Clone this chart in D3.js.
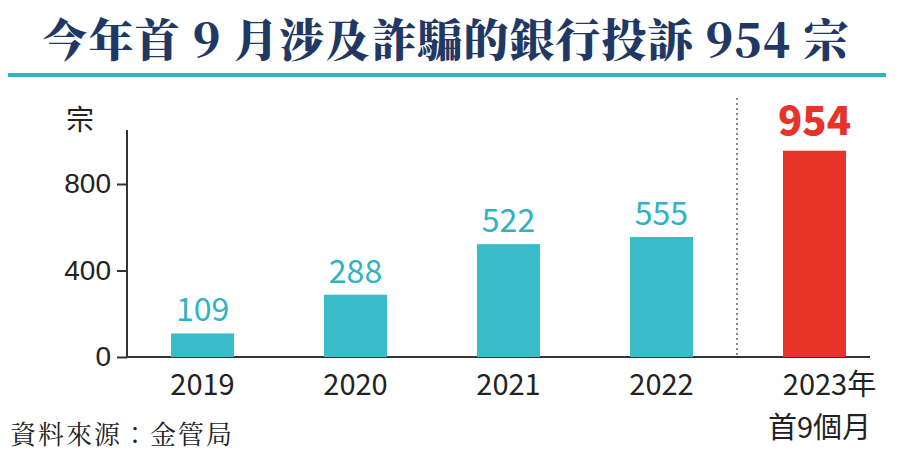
<!DOCTYPE html>
<html><head><meta charset="utf-8">
<script src="https://cdn.jsdelivr.net/npm/d3@7"></script>
<style>body{margin:0;background:#fff}</style>
</head><body><div id="chart"></div>
<script>
const years = ["2019", "2020", "2021", "2022", "2023"];
const counts = [109, 288, 522, 555, 954];
const yTicks = [0, 400, 800];

const width = 907, height = 456;
const svg = d3.select("#chart").append("svg").attr("width", width).attr("height", height)
  .style("font-family", "'Noto Sans CJK TC', 'Noto Sans', sans-serif");

svg.append("text").attr("x", 446).attr("y", 57).attr("text-anchor", "middle")
  .attr("font-family", "'Noto Serif CJK TC','Noto Sans CJK TC',serif")
  .attr("font-weight", 900).attr("font-size", 45).attr("letter-spacing", 1).attr("fill", "#1f3864")
  .text("今年首 9 月涉及詐騙的銀行投訴 954 宗");
svg.append("rect").attr("x", 8).attr("y", 73).attr("width", 878).attr("height", 4).attr("fill", "#2fb3c2");

const x = d3.scaleBand().domain(years).range([171, 846]).paddingInner(0.588).paddingOuter(0);
const y = d3.scaleLinear().domain([0, 400]).range([357, 270.5]);

const axis = svg.append("g").attr("transform", "translate(127,0)")
  .call(d3.axisLeft(y).tickValues(yTicks).tickSize(10).tickPadding(6).tickSizeOuter(0));
axis.select(".domain").remove();
axis.selectAll("line").attr("stroke", "#333").attr("stroke-width", 2).attr("x1", 0).attr("x2", -10);
axis.selectAll("text").attr("font-size", 28).attr("fill", "#222");
svg.append("line").attr("x1", 127).attr("x2", 127).attr("y1", 130).attr("y2", 357).attr("stroke", "#333").attr("stroke-width", 2);
svg.append("line").attr("x1", 127).attr("x2", 870).attr("y1", 357).attr("y2", 357).attr("stroke", "#333").attr("stroke-width", 2);
svg.append("text").attr("x", 80).attr("y", 130).attr("text-anchor", "middle").attr("font-size", 28).attr("fill", "#222").text("宗");

svg.append("line").attr("x1", 737).attr("x2", 737).attr("y1", 98).attr("y2", 357)
  .attr("stroke", "#888").attr("stroke-width", 2).attr("stroke-dasharray", "2,3");

const data = years.map((d, i) => ({ year: d, v: counts[i] }));
svg.selectAll(".bar").data(data).join("rect")
  .attr("x", d => x(d.year)).attr("width", x.bandwidth())
  .attr("y", d => y(d.v)).attr("height", d => 357 - y(d.v))
  .attr("fill", d => d.year === "2023" ? "#e8332a" : "#3bbccb");

svg.selectAll(".val").data(data).join("text")
  .attr("x", d => x(d.year) + x.bandwidth() / 2).attr("y", d => y(d.v) - (d.year === "2023" ? 16 : 12))
  .attr("text-anchor", "middle")
  .attr("font-size", d => d.year === "2023" ? 40 : 32)
  .attr("font-weight", d => d.year === "2023" ? 900 : 400)
  .attr("fill", d => d.year === "2023" ? "#e8332a" : "#2fb3c2")
  .text(d => d.v);

svg.selectAll(".yr").data(data).join("text")
  .attr("x", d => x(d.year) + x.bandwidth() / 2 + (d.year === "2023" ? 15 : 0)).attr("y", 395)
  .attr("text-anchor", "middle").attr("font-size", 29).attr("fill", "#222")
  .text(d => d.year === "2023" ? "2023年" : d.year);
svg.append("text").attr("x", x("2023") + x.bandwidth() / 2 + 5).attr("y", 438)
  .attr("text-anchor", "middle").attr("font-size", 29).attr("fill", "#222").text("首9個月");

svg.append("text").attr("x", 10).attr("y", 444).attr("font-size", 26).attr("letter-spacing", 2).attr("fill", "#222")
  .attr("font-family", "'Noto Serif CJK TC','Noto Sans CJK TC',serif").text("資料來源：金管局");
</script></body></html>
